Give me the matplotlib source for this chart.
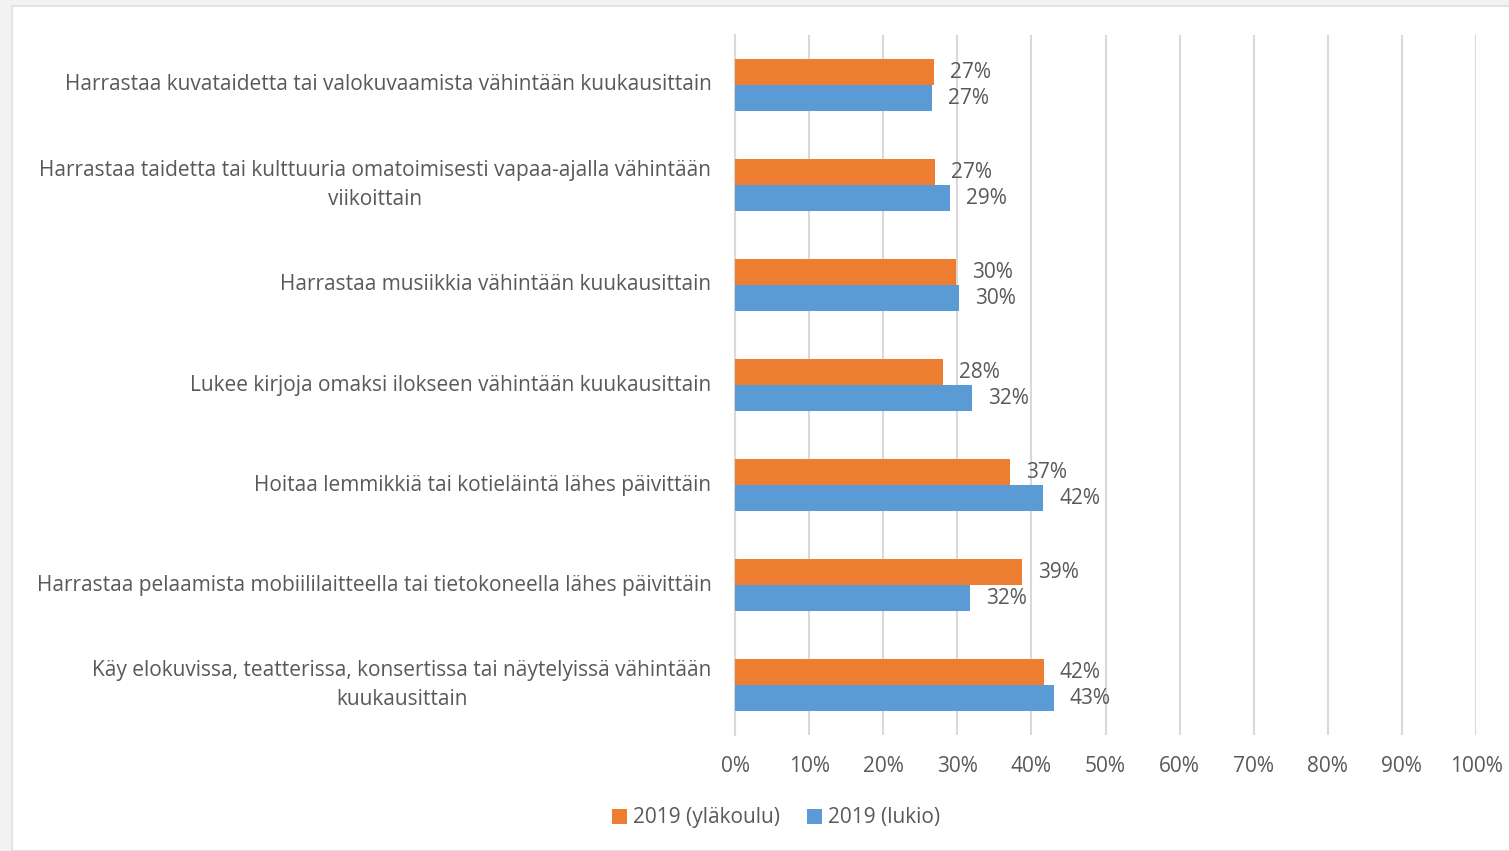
import numpy as np
import matplotlib.pyplot as plt
from matplotlib.patches import Rectangle

plt.rcParams['font.family'] = ['Open Sans', 'DejaVu Sans']

categories = [
    'Harrastaa kuvataidetta tai valokuvaamista vähintään kuukausittain',
    'Harrastaa taidetta tai kulttuuria omatoimisesti vapaa-ajalla vähintään\nviikoittain',
    'Harrastaa musiikkia vähintään kuukausittain',
    'Lukee kirjoja omaksi ilokseen vähintään kuukausittain',
    'Hoitaa lemmikkiä tai kotieläintä lähes päivittäin',
    'Harrastaa pelaamista mobiililaitteella tai tietokoneella lähes päivittäin',
    'Käy elokuvissa, teatterissa, konsertissa tai näytelyissä vähintään\nkuukausittain',
]
ylakoulu = [26.9, 27.0, 29.8, 28.1, 37.1, 38.7, 41.7]
lukio = [26.6, 29.0, 30.2, 32.0, 41.6, 31.7, 43.0]
series_names = ['2019 (yläkoulu)', '2019 (lukio)']
colors = ['#ed7d31', '#5b9bd5']
text_color = '#595959'
fs = 15

fig = plt.figure(figsize=(15.09, 8.51), dpi=100)
fig.patch.set_facecolor('#f2f2f2')
# white chart area
fig.patches.append(Rectangle((12 / 1509, 0), 1, 1 - 6 / 851, transform=fig.transFigure,
                             facecolor='white', edgecolor='#e3e3e3', lw=1.5, zorder=-5))

ax = fig.add_axes([735 / 1509, 1 - 735 / 851, 741 / 1509, 700 / 851])
ax.set_facecolor('none')

y = np.arange(len(categories))
h = 0.26
b1 = ax.barh(y - h / 2, ylakoulu, height=h, color=colors[0], label=series_names[0], zorder=3)
b2 = ax.barh(y + h / 2, lukio, height=h, color=colors[1], label=series_names[1], zorder=3)

for bars, vals in [(b1, ylakoulu), (b2, lukio)]:
    for bar, v in zip(bars, vals):
        ax.annotate(f'{round(v)}%', (v, bar.get_y() + bar.get_height() / 2),
                    xytext=(11.5, 0), textcoords='offset points', va='center', ha='left',
                    fontsize=fs, color=text_color)

ax.set_xlim(0, 100)
ax.set_ylim(len(categories) - 0.5, -0.5)
ax.set_xticks(np.arange(0, 101, 10))
ax.set_xticklabels([f'{t}%' for t in range(0, 101, 10)])
ax.set_yticks(y)
ax.set_yticklabels(categories, multialignment='center', linespacing=1.55)
for lab in ax.get_yticklabels():
    lab.set_va('center')
ax.tick_params(axis='x', length=0, pad=15, labelsize=fs, labelcolor=text_color)
ax.tick_params(axis='y', length=0, pad=17, labelsize=fs, labelcolor=text_color)
ax.grid(axis='x', color='#d9d9d9', lw=1.5, zorder=0)
ax.axvline(0, color='#d9d9d9', lw=1.5, zorder=0, clip_on=False)
for s in ax.spines.values():
    s.set_visible(False)

ax.legend(loc='center', bbox_to_anchor=(776 / 1509, 1 - 818 / 851), bbox_transform=fig.transFigure,
          ncol=2, frameon=False, fontsize=fs, labelcolor=text_color,
          handlelength=0.7, handleheight=0.7, handletextpad=0.3, columnspacing=1.3)

fig.savefig('out.png', dpi=100)
